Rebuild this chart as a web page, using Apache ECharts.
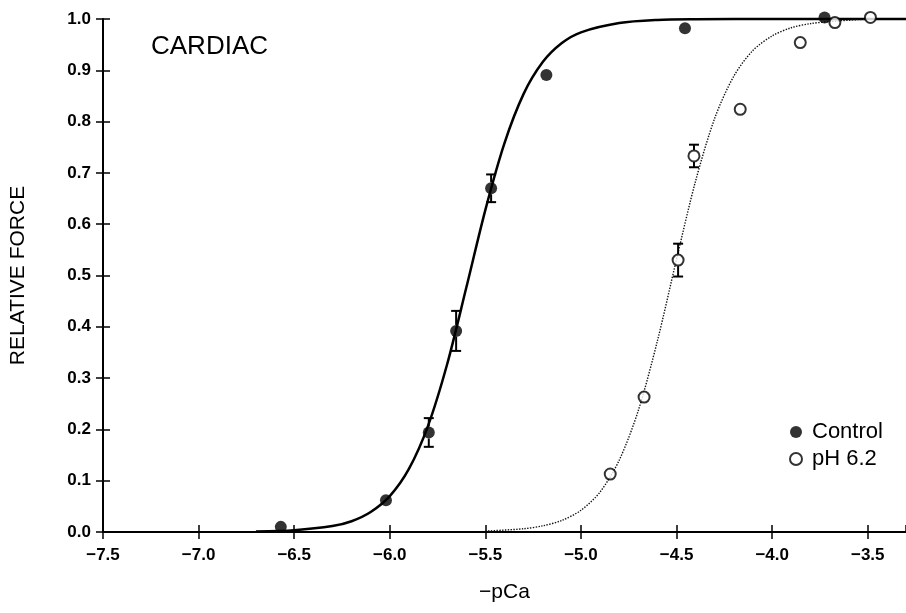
<!DOCTYPE html>
<html>
<head>
<meta charset="utf-8">
<script src="https://cdn.jsdelivr.net/npm/echarts@6/dist/echarts.min.js"></script>
<style>html,body{margin:0;padding:0;background:#fff;}#chart{width:906px;height:613px;}</style>
</head>
<body>
<div id="chart"></div>
<script>
// Tick labels
var xTicks = [-7.5, -7.0, -6.5, -6.0, -5.5, -5.0, -4.5, -4.0, -3.5];
var yTicks = [0.0, 0.1, 0.2, 0.3, 0.4, 0.5, 0.6, 0.7, 0.8, 0.9, 1.0];

// Measured points: [-pCa, relative force]
var controlPoints = [[-6.57, 0.01], [-6.02, 0.062], [-5.796, 0.194], [-5.653, 0.392], [-5.47, 0.67], [-5.181, 0.891], [-4.456, 0.982], [-3.726, 1.003]];
var ph62Points = [[-4.847, 0.113], [-4.67, 0.263], [-4.492, 0.530], [-4.409, 0.733], [-4.167, 0.824], [-3.853, 0.954], [-3.672, 0.993], [-3.486, 1.003]];

// Error bars: [-pCa, force, sem]
var controlErr = [[-5.796, 0.194, 0.028], [-5.653, 0.392, 0.039], [-5.47, 0.67, 0.027]];
var ph62Err = [[-4.492, 0.530, 0.032], [-4.409, 0.733, 0.022]];

// Fitted curves
var controlCurve = [[-6.7, 0.001], [-6.5, 0.0034], [-6.3, 0.0115], [-6.2, 0.021], [-6.1, 0.039], [-6.0, 0.070], [-5.9, 0.123], [-5.8, 0.207], [-5.7, 0.327], [-5.6, 0.476], [-5.5, 0.628], [-5.4, 0.758], [-5.3, 0.854], [-5.2, 0.916], [-5.1, 0.953], [-5.0, 0.974], [-4.8, 0.992], [-4.6, 0.998], [-4.4, 0.9994], [-4.0, 1.0], [-3.3, 1.0]];
var ph62Curve = [[-5.5, 0.0017], [-5.3, 0.0063], [-5.2, 0.012], [-5.1, 0.0226], [-5.0, 0.0424], [-4.9, 0.078], [-4.8, 0.140], [-4.7, 0.237], [-4.6, 0.373], [-4.5, 0.532], [-4.4, 0.685], [-4.3, 0.807], [-4.2, 0.889], [-4.1, 0.939], [-4.0, 0.967], [-3.9, 0.983], [-3.8, 0.991], [-3.7, 0.995], [-3.5, 1.0]];

var FONT = 'Liberation Sans';
var chart = echarts.init(document.getElementById('chart'));

function errRender(params, api) {
  var x = api.value(0), y = api.value(1), e = api.value(2);
  var c = api.coord([x, y]);
  var top = api.coord([x, y + e])[1];
  var bot = api.coord([x, y - e])[1];
  var r = 6, cap = 5;
  var st = {stroke: '#000', lineWidth: 2};
  return {type: 'group', children: [
    {type: 'line', shape: {x1: c[0], y1: c[1] - r, x2: c[0], y2: top}, style: st},
    {type: 'line', shape: {x1: c[0] - cap, y1: top, x2: c[0] + cap, y2: top}, style: st},
    {type: 'line', shape: {x1: c[0], y1: c[1] + r, x2: c[0], y2: bot}, style: st},
    {type: 'line', shape: {x1: c[0] - cap, y1: bot, x2: c[0] + cap, y2: bot}, style: st}
  ]};
}

var xBase = {type: 'value', min: -7.5, max: -3.3, interval: 0.5, splitLine: {show: false}};
var yBase = {type: 'value', min: 0, max: 1, interval: 0.1, splitLine: {show: false}};

var option = {
  backgroundColor: '#fff',
  animation: false,
  textStyle: {fontFamily: FONT},
  title: {text: 'CARDIAC', left: 146, top: 29, textStyle: {fontFamily: FONT, fontSize: 26, fontWeight: 'normal', color: '#000'}},
  grid: {left: 103, top: 19, right: 0, bottom: 81, containLabel: false},
  legend: {
    orient: 'vertical', left: 784, top: 416, itemGap: 5, itemWidth: 12, itemHeight: 12,
    textStyle: {fontFamily: FONT, fontSize: 22, color: '#000', padding: [0, 0, 0, 5]},
    data: [{name: 'Control', icon: 'circle', itemStyle: {color: '#000'}},
           {name: 'pH 6.2', icon: 'circle', itemStyle: {color: '#fff', borderColor: '#000', borderWidth: 2}}]
  },
  xAxis: [
    Object.assign({}, xBase, {
      position: 'bottom',
      name: '\u2212pCa', nameLocation: 'middle', nameGap: 50,
      nameTextStyle: {fontFamily: FONT, fontSize: 21, color: '#000'},
      axisLine: {show: true, onZero: false, lineStyle: {color: '#000', width: 2}},
      axisTick: {show: true, inside: false, length: 7, lineStyle: {color: '#000', width: 1.5}},
      axisLabel: {show: true, margin: 15, fontFamily: FONT, fontSize: 17, fontWeight: 'bold', color: '#000', showMaxLabel: false,
        formatter: function (v) { var i = xTicks.indexOf(Math.round(v * 10) / 10); return i < 0 ? '' : '\u2212' + Math.abs(xTicks[i]).toFixed(1); }}
    }),
    Object.assign({}, xBase, {
      position: 'bottom',
      axisLine: {show: false, onZero: false},
      axisTick: {show: true, inside: true, length: 7, lineStyle: {color: '#000', width: 1.5}},
      axisLabel: {show: false}
    })
  ],
  yAxis: [
    Object.assign({}, yBase, {
      position: 'left',
      name: 'RELATIVE FORCE', nameLocation: 'middle', nameGap: 74, nameRotate: 90,
      nameTextStyle: {fontFamily: FONT, fontSize: 21, color: '#000'},
      axisLine: {show: true, onZero: false, lineStyle: {color: '#000', width: 2}},
      axisTick: {show: true, inside: false, length: 7, lineStyle: {color: '#000', width: 1.5}},
      axisLabel: {show: true, margin: 12, fontFamily: FONT, fontSize: 17, fontWeight: 'bold', color: '#000',
        formatter: function (v) { var i = yTicks.indexOf(Math.round(v * 10) / 10); return i < 0 ? '' : yTicks[i].toFixed(1); }}
    }),
    Object.assign({}, yBase, {
      position: 'left',
      axisLine: {show: false, onZero: false},
      axisTick: {show: true, inside: true, length: 7, lineStyle: {color: '#000', width: 1.5}},
      axisLabel: {show: false}
    })
  ],
  series: [
    {name: 'controlFit', type: 'line', data: controlCurve, smooth: 0.3, symbol: 'none', silent: true, clip: false,
     lineStyle: {color: '#000', width: 2.5}, z: 2},
    {name: 'phFit', type: 'line', data: ph62Curve, smooth: 0.3, symbol: 'none', silent: true, clip: false,
     lineStyle: {color: '#111', width: 1.4, type: 'dotted'}, z: 2},
    {name: 'controlErr', type: 'custom', data: controlErr, renderItem: errRender, z: 3, silent: true, clip: false},
    {name: 'phErr', type: 'custom', data: ph62Err, renderItem: errRender, z: 3, silent: true, clip: false},
    {name: 'Control', type: 'scatter', data: controlPoints, symbol: 'circle', symbolSize: 12, clip: false,
     itemStyle: {color: '#000'}, z: 5},
    {name: 'pH 6.2', type: 'scatter', data: ph62Points, symbol: 'circle', symbolSize: 11, clip: false,
     itemStyle: {color: '#fff', borderColor: '#000', borderWidth: 2}, z: 5}
  ]
};
chart.setOption(option);
</script>
</body>
</html>
